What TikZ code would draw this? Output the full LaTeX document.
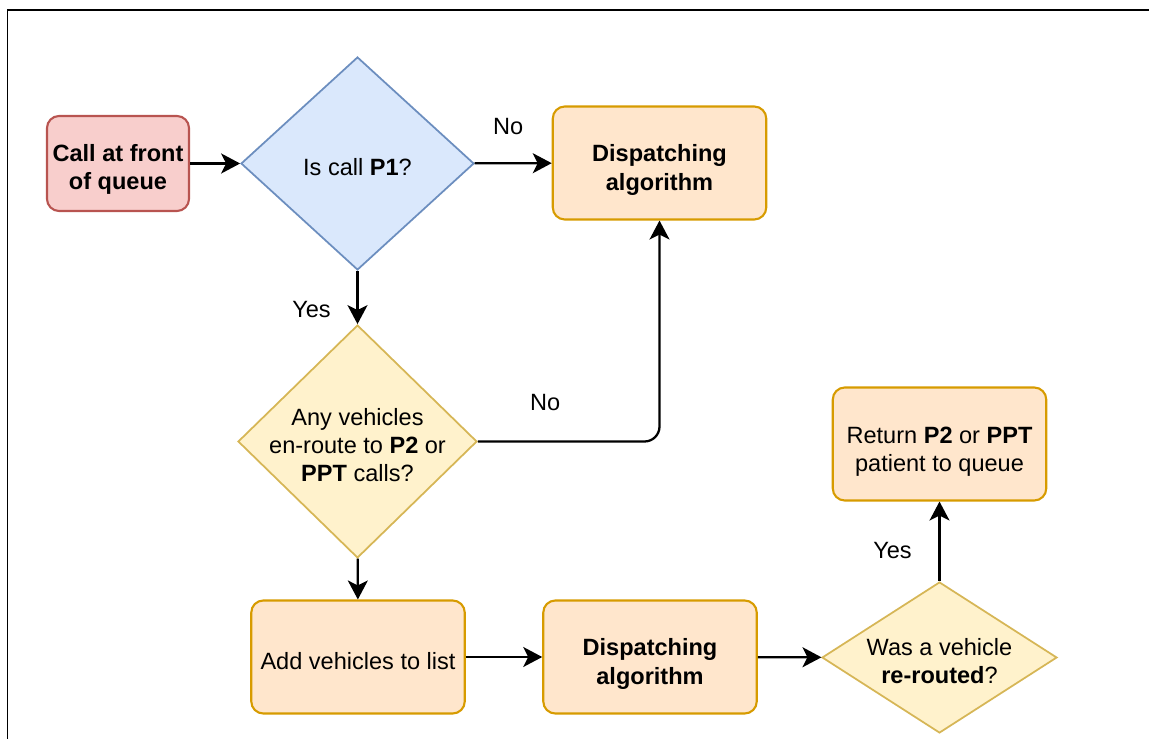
\documentclass[tikz,border=0pt]{standalone}
\usepackage{fontspec}
\setmainfont{Liberation Sans}
\usetikzlibrary{shapes.geometric,% diamond nodes
arrows.meta}
\definecolor{redfill}{HTML}{F8CECC}
\definecolor{redline}{HTML}{B85450}
\definecolor{bluefill}{HTML}{DAE8FC}
\definecolor{blueline}{HTML}{6C8EBF}
\definecolor{orangefill}{HTML}{FFE6CC}
\definecolor{orangeline}{HTML}{D79B00}
\definecolor{yellowfill}{HTML}{FFF2CC}
\definecolor{yellowline}{HTML}{D6B656}
\newcommand{\flowfont}{\fontsize{13.4pt}{16pt}\selectfont}
\newcommand{\topstrut}[1]{\rule{0pt}{#1}}% pushes a text block down
\tikzset{every node/.style={font=\flowfont},
  >={Stealth[length=0.38cm,width=0.4cm,inset=0.1cm]},
  box/.style={draw,rounded corners=0.24cm,line width=1.2pt,align=center,inner sep=2pt},
  startbox/.style={box,draw=redline,fill=redfill,minimum width=2.84cm,
    minimum height=1.9cm,font=\flowfont\bfseries},
  procbox/.style={box,draw=orangeline,fill=orangefill,minimum width=4.27cm,
    minimum height=2.26cm},
  decision/.style={diamond,draw,line width=1pt,align=center,inner sep=-8pt},
  bluedecision/.style={decision,draw=blueline,fill=bluefill},
  yellowdecision/.style={decision,draw=yellowline,fill=yellowfill},
  flow/.style={->,line width=1.3pt},
  edgelabel/.style={inner sep=0pt}}

\begin{document}
\begin{tikzpicture}[x=0.02cm,y=-0.02cm]
  \useasboundingbox (0,0) rectangle (1149,739);
  \clip (0,0) rectangle (1149,739);
  \draw[line width=1.1pt] (7.5,10) rectangle (1200,800);
  % nodes
  \node[startbox] (call) at (118,163.5) {\topstrut{16.4pt}Call at front\\of queue};
  \node[bluedecision,minimum width=4.66cm,minimum height=4.26cm] (isp1)
     at (357.5,163.5) {\topstrut{14.3pt}Is call \textbf{P1}?};
  \node[procbox] (disp1) at (659.5,163) {\topstrut{17.6pt}\textbf{Dispatching}\\\textbf{algorithm}};
  \node[yellowdecision,minimum width=4.78cm,minimum height=4.66cm] (anyveh)
     at (357.5,441.5) {\topstrut{14.2pt}Any vehicles\\en-route to \textbf{P2} or\\\textbf{PPT} calls?};
  \node[procbox] (addlist) at (358,657) {\topstrut{14.5pt}Add vehicles to list};
  \node[procbox] (disp2) at (650,657) {\topstrut{17.6pt}\textbf{Dispatching}\\\textbf{algorithm}};
  \node[yellowdecision,minimum width=4.7cm,minimum height=3.02cm] (rerouted)
     at (939.5,657.5) {\topstrut{14.2pt}Was a vehicle\\\textbf{re-routed}?};
  \node[procbox] (returnq) at (939.5,444) {\topstrut{18.6pt}Return \textbf{P2} or \textbf{PPT}\\patient to queue};
  % connectors
  \draw[flow] (call) -- (isp1);
  \draw[flow] (isp1) -- node[edgelabel,midway,xshift=-0.1cm,yshift=0.74cm] (lno1) {No} (disp1);
  \draw[flow] (isp1) -- node[edgelabel,midway,xshift=-0.92cm,yshift=-0.24cm] (lyes1) {Yes} (anyveh);
  \draw[flow,rounded corners=0.3cm] (anyveh) -| node[edgelabel,pos=0.185,yshift=0.78cm] (lno2) {No} (disp1);
  \draw[flow] (anyveh) -- (addlist);
  \draw[flow] (addlist) -- (disp2);
  \draw[flow] (disp2) -- (rerouted);
  \draw[flow] (rerouted) -- node[edgelabel,midway,xshift=-0.94cm,yshift=-0.18cm] (lyes2) {Yes} (returnq);
\end{tikzpicture}
\end{document}
